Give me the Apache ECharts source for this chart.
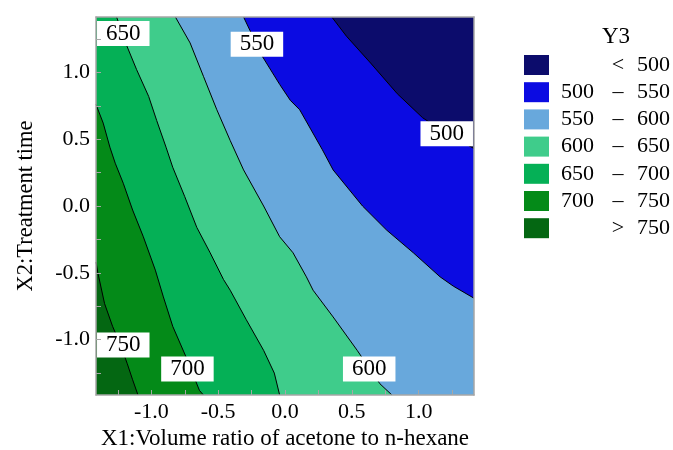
<!DOCTYPE html>
<html>
<head>
<meta charset="utf-8">
<script src="https://cdn.jsdelivr.net/npm/echarts@6.0.0/dist/echarts.min.js"></script>
<style>
  html, body { margin: 0; padding: 0; background: #fff; }
  #chart { width: 673px; height: 450px; }
</style>
</head>
<body>
<div id="chart"></div>
<script>
// ---------- data ----------
const xTicks = [-1.25, -1.0, -0.75, -0.5, -0.25, 0, 0.25, 0.5, 0.75, 1.0, 1.25];
const xLabels = [-1.0, -0.5, 0.0, 0.5, 1.0];
const yTicks = [-1.25, -1.0, -0.75, -0.5, -0.25, 0, 0.25, 0.5, 0.75, 1.0, 1.25];
const yLabels = [-1.0, -0.5, 0.0, 0.5, 1.0];
const levels = [500, 550, 600, 650, 700, 750];

// contour lines, [X1, X2] points
const c500 = [[0.35,1.414],[0.46,1.27],[0.64,1.07],[0.84,0.84],[1.03,0.66],[1.23,0.53],[1.414,0.43]];
const c550 = [[-0.31,1.414],[-0.17,1.12],[-0.04,0.91],[0.04,0.79],[0.11,0.72],[0.28,0.42],[0.36,0.27],[0.58,0.0],[0.76,-0.18],[0.96,-0.35],[1.16,-0.53],[1.26,-0.60],[1.414,-0.69]];
const c600 = [[-0.82,1.414],[-0.71,1.22],[-0.61,0.97],[-0.51,0.72],[-0.41,0.49],[-0.31,0.27],[-0.16,0.0],[-0.04,-0.23],[0.06,-0.35],[0.16,-0.53],[0.21,-0.63],[0.36,-0.83],[0.54,-1.08],[0.71,-1.33],[0.80,-1.414]];
const c650 = [[-1.26,1.414],[-1.18,1.19],[-1.11,1.02],[-1.02,0.82],[-0.96,0.64],[-0.89,0.44],[-0.84,0.29],[-0.75,0.07],[-0.66,-0.16],[-0.56,-0.35],[-0.46,-0.55],[-0.41,-0.63],[-0.29,-0.85],[-0.16,-1.08],[-0.08,-1.25],[-0.04,-1.414]];
const c700 = [[-1.414,0.76],[-1.36,0.62],[-1.31,0.44],[-1.27,0.32],[-1.21,0.17],[-1.14,-0.03],[-1.06,-0.23],[-0.97,-0.48],[-0.91,-0.68],[-0.84,-0.90],[-0.74,-1.13],[-0.64,-1.38],[-0.61,-1.414]];
const c750 = [[-1.414,-0.42],[-1.40,-0.50],[-1.35,-0.73],[-1.29,-0.90],[-1.23,-1.04],[-1.18,-1.18],[-1.14,-1.30],[-1.10,-1.414]];

// contour label anchors [X1, X2, value]
const contourLabels = [[-1.21,1.29,650],[-0.21,1.21,550],[1.21,0.54,500],[0.63,-1.22,600],[-0.73,-1.22,700],[-1.21,-1.04,750]];

// ---------- styles ----------
const X_MIN = -1.414, X_MAX = 1.414, Y_MIN = -1.414, Y_MAX = 1.414;
const FONT = "'Liberation Serif', 'Times New Roman', serif";
const GRAY = '#a6a6a6';
const colors = {
  '< 500': '#0c0c6c',
  '500 – 550': '#0b0be2',
  '550 – 600': '#68a8dc',
  '600 – 650': '#3fcc8b',
  '650 – 700': '#05b056',
  '700 – 750': '#048a18',
  '> 750': '#046712'
};

const names = ['< ' + levels[0]];
for (let i = 0; i < levels.length - 1; i++) names.push(levels[i] + ' – ' + levels[i + 1]);
names.push('> ' + levels[levels.length - 1]);

function aboveRegion(c) {
  const pts = c.slice();
  const s = c[0], e = c[c.length - 1];
  if (Math.abs(e[1] - Y_MIN) < 1e-6) pts.push([X_MAX, Y_MIN]);
  pts.push([X_MAX, Y_MAX]);
  if (Math.abs(s[0] - X_MIN) < 1e-6) pts.push([X_MIN, Y_MAX]);
  return pts;
}
const fullRect = [[X_MIN, Y_MIN], [X_MAX, Y_MIN], [X_MAX, Y_MAX], [X_MIN, Y_MAX]];

const fills = [
  { name: names[6], poly: fullRect },
  { name: names[5], poly: aboveRegion(c750) },
  { name: names[4], poly: aboveRegion(c700) },
  { name: names[3], poly: aboveRegion(c650) },
  { name: names[2], poly: aboveRegion(c600) },
  { name: names[1], poly: aboveRegion(c550) },
  { name: names[0], poly: aboveRegion(c500) }
];

const series = [];
fills.forEach(f => {
  const col = colors[f.name];
  series.push({
    type: 'custom',
    name: f.name,
    coordinateSystem: 'cartesian2d',
    data: [[0, 0]],
    silent: true,
    z: 1,
    itemStyle: { color: col },
    renderItem: function (params, api) {
      return {
        type: 'polygon',
        shape: { points: f.poly.map(p => api.coord(p)) },
        style: { fill: col }
      };
    }
  });
});
[c500, c550, c600, c650, c700, c750].forEach(c => {
  series.push({
    type: 'line',
    data: c,
    symbol: 'none',
    silent: true,
    z: 3,
    lineStyle: { color: '#000', width: 1 }
  });
});
series.push({
  type: 'custom',
  coordinateSystem: 'cartesian2d',
  data: contourLabels,
  silent: true,
  z: 5,
  renderItem: function (params, api) {
    const pt = api.coord([api.value(0), api.value(1)]);
    return {
      type: 'text',
      x: pt[0], y: pt[1],
      style: {
        text: String(api.value(2)),
        fill: '#000',
        font: '23px ' + FONT,
        align: 'center',
        verticalAlign: 'middle',
        backgroundColor: '#ffffff',
        padding: [1, 9, 1, 9]
      }
    };
  }
});

const chart = echarts.init(document.getElementById('chart'), null, { renderer: 'canvas' });
chart.setOption({
  animation: false,
  backgroundColor: '#fff',
  title: {
    text: 'Y3', left: 602, top: 25, padding: 0,
    textStyle: { fontSize: 23, fontWeight: 'normal', color: '#000', fontFamily: FONT }
  },
  legend: {
    orient: 'vertical', left: 524, top: 54, padding: 0,
    itemWidth: 25, itemHeight: 20, itemGap: 5.2,
    icon: 'rect', selectedMode: false,
    data: names.map(n => ({ name: n, itemStyle: { color: colors[n] } })),
    formatter: function (name) {
      if (name[0] === '<' || name[0] === '>') {
        return '{l| }{d|' + name[0] + '}{r|' + name.slice(2) + '}';
      }
      const parts = name.split(' – ');
      return '{l|' + parts[0] + '}{d|–}{r|' + parts[1] + '}';
    },
    textStyle: {
      fontSize: 22, fontFamily: FONT, color: '#000', lineHeight: 20,
      rich: {
        l: { width: 47, align: 'right', fontSize: 22, fontFamily: FONT, lineHeight: 20 },
        d: { width: 34, align: 'center', fontSize: 22, fontFamily: FONT, lineHeight: 20 },
        r: { width: 35, align: 'right', fontSize: 22, fontFamily: FONT, lineHeight: 20 }
      }
    }
  },
  grid: { left: 96, right: 199, top: 17, bottom: 55, containLabel: false, outerBoundsMode: 'none' },
  xAxis: [{
    type: 'value', min: X_MIN, max: X_MAX, position: 'bottom', z: 10,
    name: 'X1:Volume ratio of acetone to n-hexane',
    nameLocation: 'middle', nameGap: 30,
    nameTextStyle: { fontSize: 23, color: '#000', fontFamily: FONT },
    axisLine: { show: true, onZero: false, lineStyle: { color: GRAY, width: 1.5 } },
    axisTick: { show: true, inside: true, length: 5, customValues: xTicks, lineStyle: { color: GRAY } },
    axisLabel: { customValues: xLabels, formatter: v => Number(v).toFixed(1), fontSize: 22, color: '#000', margin: 6, fontFamily: FONT },
    splitLine: { show: false }
  }, {
    type: 'value', min: X_MIN, max: X_MAX, position: 'top', z: 10,
    axisLine: { show: true, onZero: false, lineStyle: { color: GRAY, width: 1.5 } },
    axisTick: { show: false }, axisLabel: { show: false }, splitLine: { show: false }
  }],
  yAxis: [{
    type: 'value', min: Y_MIN, max: Y_MAX, position: 'left', z: 10,
    name: 'X2:Treatment time',
    nameLocation: 'middle', nameGap: 58, nameRotate: 90,
    nameTextStyle: { fontSize: 22.5, color: '#000', fontFamily: FONT },
    axisLine: { show: true, onZero: false, lineStyle: { color: GRAY, width: 1.5 } },
    axisTick: { show: true, inside: true, length: 5, customValues: yTicks, lineStyle: { color: GRAY } },
    axisLabel: { customValues: yLabels, formatter: v => Number(v).toFixed(1), fontSize: 22, color: '#000', margin: 6, fontFamily: FONT },
    splitLine: { show: false }
  }, {
    type: 'value', min: Y_MIN, max: Y_MAX, position: 'right', z: 10,
    axisLine: { show: true, onZero: false, lineStyle: { color: GRAY, width: 1.5 } },
    axisTick: { show: false }, axisLabel: { show: false }, splitLine: { show: false }
  }],
  series: series
});
</script>
</body>
</html>
